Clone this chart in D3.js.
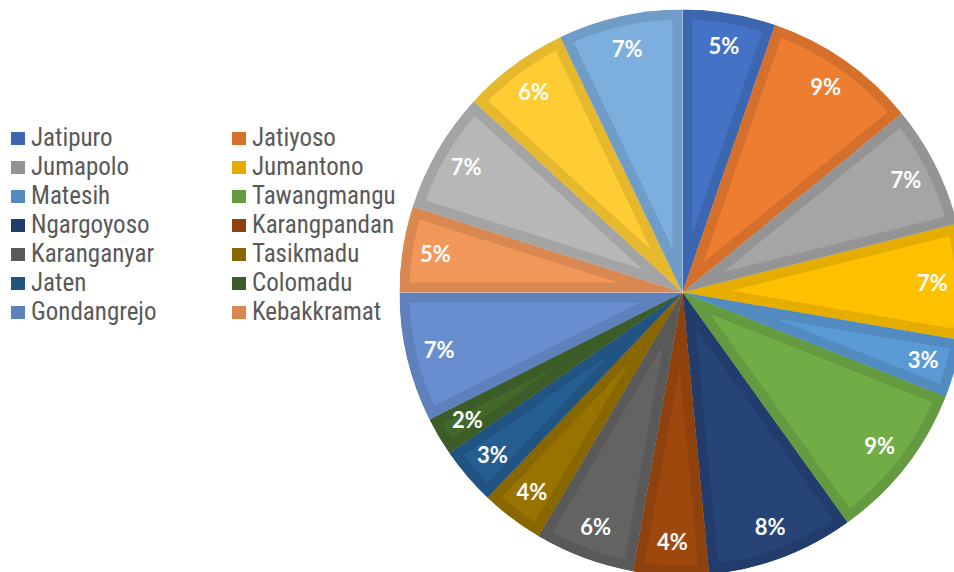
<!DOCTYPE html>
<html>
<head>
  <meta charset="utf-8">
  <title>Kecamatan Karanganyar</title>
  <script src="https://d3js.org/d3.v7.min.js"></script>
  <style>
    body {
      margin: 0;
      background: #ffffff;
    }
    svg {
      display: block;
    }
    .legend text {
      font-family: "Liberation Sans Narrow", "Roboto Condensed", "Liberation Sans", sans-serif;
      font-size: 25px;
      fill: #595959;
    }
    .label {
      font-family: Lato, "Open Sans", sans-serif;
      font-weight: bold;
      font-size: 22px;
      fill: #ffffff;
    }
  </style>
</head>
<body>
  <div id="chart"></div>

  <script>
    // categories (clockwise from 12 o'clock) and their share
    var kecamatan = ["Jatipuro", "Jatiyoso", "Jumapolo", "Jumantono", "Matesih", "Tawangmangu",
                     "Ngargoyoso", "Karangpandan", "Karanganyar", "Tasikmadu", "Jaten", "Colomadu",
                     "Gondangrejo", "Kebakkramat", "Mojogedang", "Kerjo", "Jenawi"];
    var nilai = [5.3, 8.8, 7.0, 6.6, 3.3, 9.1, 8.4, 4.3, 5.7, 3.6, 3.3, 2.2, 7.4, 4.9, 6.9, 6.1, 7.1];
    // only the first 14 names fit in the legend
    var legendCount = 14;

    var colors = ["#4472C4", "#ED7D31", "#A5A5A5", "#FFC000", "#5B9BD5", "#70AD47",
                  "#264478", "#9E480E", "#636363", "#997300", "#255E91", "#43682B",
                  "#698ED0", "#F1975A", "#B7B7B7", "#FFCD33", "#7CAFDD"];

    var width = 954, height = 572;
    var cx = 682.5, cy = 292.5, radius = 283;

    var svg = d3.select("#chart")
      .append("svg")
        .attr("width", width)
        .attr("height", height);

    var data = kecamatan.map(function(k, i) { return {name: k, value: nilai[i], i: i}; });
    var total = d3.sum(nilai);

    var color = d3.scaleOrdinal().domain(kecamatan).range(colors);
    var borderColor = function(name) { return d3.color(color(name)).darker(0.3).formatHex(); };

    var pie = d3.pie().sort(null).value(function(d) { return d.value; });
    var arc = d3.arc().innerRadius(0).outerRadius(radius);
    var labelArc = d3.arc().innerRadius(250).outerRadius(250);

    var arcs = pie(data);

    var g = svg.append("g")
      .attr("transform", "translate(" + cx + "," + cy + ")");

    // clip paths so the darker border stays inside each slice
    var defs = svg.append("defs");
    defs.selectAll("clipPath")
      .data(arcs)
      .enter()
      .append("clipPath")
        .attr("id", function(d) { return "clip-" + d.data.i; })
      .append("path")
        .attr("d", arc);

    g.selectAll("path.slice")
      .data(arcs)
      .enter()
      .append("path")
        .attr("class", "slice")
        .attr("d", arc)
        .attr("clip-path", function(d) { return "url(#clip-" + d.data.i + ")"; })
        .style("fill", function(d) { return color(d.data.name); })
        .style("stroke", function(d) { return borderColor(d.data.name); })
        .style("stroke-width", 20);

    g.selectAll("text.label")
      .data(arcs)
      .enter()
      .append("text")
        .attr("class", "label")
        .attr("transform", function(d) { return "translate(" + labelArc.centroid(d) + ")"; })
        .attr("text-anchor", "middle")
        .attr("dy", "0.36em")
        .text(function(d) { return Math.round(d.data.value / total * 100) + "%"; });

    // legend, two columns
    var legend = svg.append("g").attr("class", "legend");
    var items = legend.selectAll("g")
      .data(data.slice(0, legendCount))
      .enter()
      .append("g")
        .attr("transform", function(d, i) {
          var col = i % 2, row = Math.floor(i / 2);
          return "translate(" + (11 + col * 221) + "," + (132 + row * 29) + ")";
        });

    items.append("rect")
      .attr("width", 14)
      .attr("height", 13)
      .style("fill", function(d) { return borderColor(d.name); });

    items.append("text")
      .attr("x", 20)
      .attr("y", 14)
      .text(function(d) { return d.name; });
  </script>
</body>
</html>
